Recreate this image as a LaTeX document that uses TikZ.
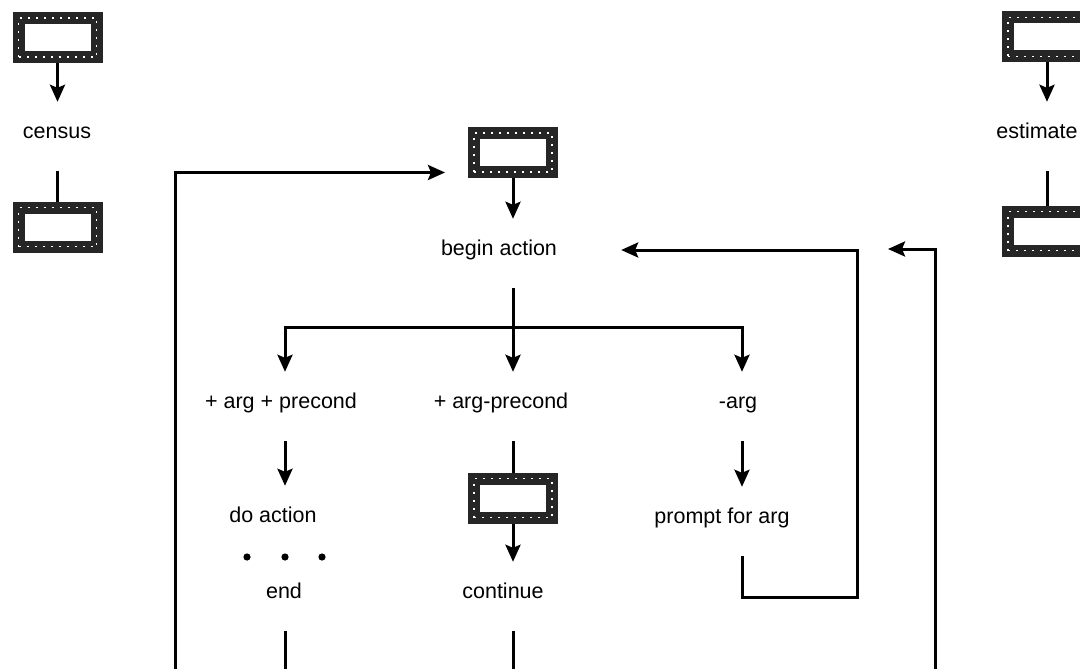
\documentclass[tikz,border=0pt]{standalone}
\usepackage{fontspec}
\setmainfont{Liberation Sans}
\usetikzlibrary{arrows.meta,positioning}

\begin{document}
\begin{tikzpicture}[
    x=1pt, y=-1pt,
    every node/.style={font=\fontsize{21.5}{25}\selectfont},
    word/.style={inner sep=0pt, text height=36.6pt, text depth=25.4pt},
    screen/.style={draw=black!85, line width=12pt, minimum width=78pt, minimum height=39pt, inner sep=0pt,
        postaction={draw=white, line width=1.2pt, dash pattern=on 2pt off 6pt}},
    flow/.style={-{Stealth[length=17pt,width=15pt,inset=3pt]}, line width=3pt},
    link/.style={line width=3pt, shorten <=7pt}
]
\clip (0,0) rectangle (1080,669);
\node[screen] (censusin) at (57.5,37.5) {};
\node[word] (census) at (57,133) {census};
\node[screen] (censusout) at (57.5,227) {};
\node[screen] (actin) at (513,152.5) {};
\node[word] (begin) at (499,250) {begin action};
\node[word] (both) at (281,403) {+ arg + precond};
\node[word] (argonly) at (501,403) {+ arg-precond};
\node[word] (noarg) at (738,403) {-arg};
\node[word] (doact) at (273,517) {do action};
\node[screen] (precond) at (513,498) {};
\node[word] (prompt) at (722,518) {prompt for arg};
\node[word] (finish) at (284,593) {end};
\node[word] (cont) at (503,593) {continue};
\node[screen] (estin) at (1047,37) {};
\node[word] (estimate) at (1037,133) {estimate};
\node[screen] (estout) at (1047,231) {};
\coordinate (split) at (513,327);
\coordinate (turn) at (857,597);
\coordinate (foot) at (0,672);
\coordinate (leftrun) at (175,672);
\coordinate (rightrun) at (935,672);
\coordinate (reentry) at (888,249);
\coordinate (leftcol) at (285,0);
\coordinate (rightcol) at (742,0);
% side columns
\draw[flow] (censusin.south) -- (censusin.south |- census.north);
\draw[link] (censusin.south |- census.south) -- (censusout.north);
\draw[flow] (estin.south) -- (estin.south |- estimate.north);
\draw[link] (estin.south |- estimate.south) -- (estout.north);
% main flow
\draw[flow] (actin.south) -- (actin.south |- begin.north);
\draw[link] (actin.south |- begin.south) -- (split);
\draw[flow] (split) -| (leftcol |- both.north);
\draw[flow] (split) -| (rightcol |- noarg.north);
\draw[flow] (split) -- (split |- argonly.north);
\draw[flow, shorten <=7pt] (leftcol |- both.south) -- (leftcol |- doact.north);
\draw[link] (precond.north |- argonly.south) -- (precond.north);
\draw[flow] (precond.south) -- (precond.south |- cont.north);
\draw[flow, shorten <=7pt] (rightcol |- noarg.south) -- (rightcol |- prompt.north);
\draw[flow, shorten <=7pt] (rightcol |- prompt.south) |- (turn) |- ([xshift=64pt]begin.east);
\foreach \dx in {-38,0,37}
    \fill (285+\dx,557) circle (3.6pt);
\draw[link] (leftcol |- finish.south) -- (leftcol |- foot);
\draw[link] (precond.south |- cont.south) -- (precond.south |- foot);
% outer returns
\draw[flow] (leftrun) |- ([xshift=-23pt,yshift=-20pt]actin.west);
\draw[flow] (rightrun) |- (reentry);
\end{tikzpicture}
\end{document}
